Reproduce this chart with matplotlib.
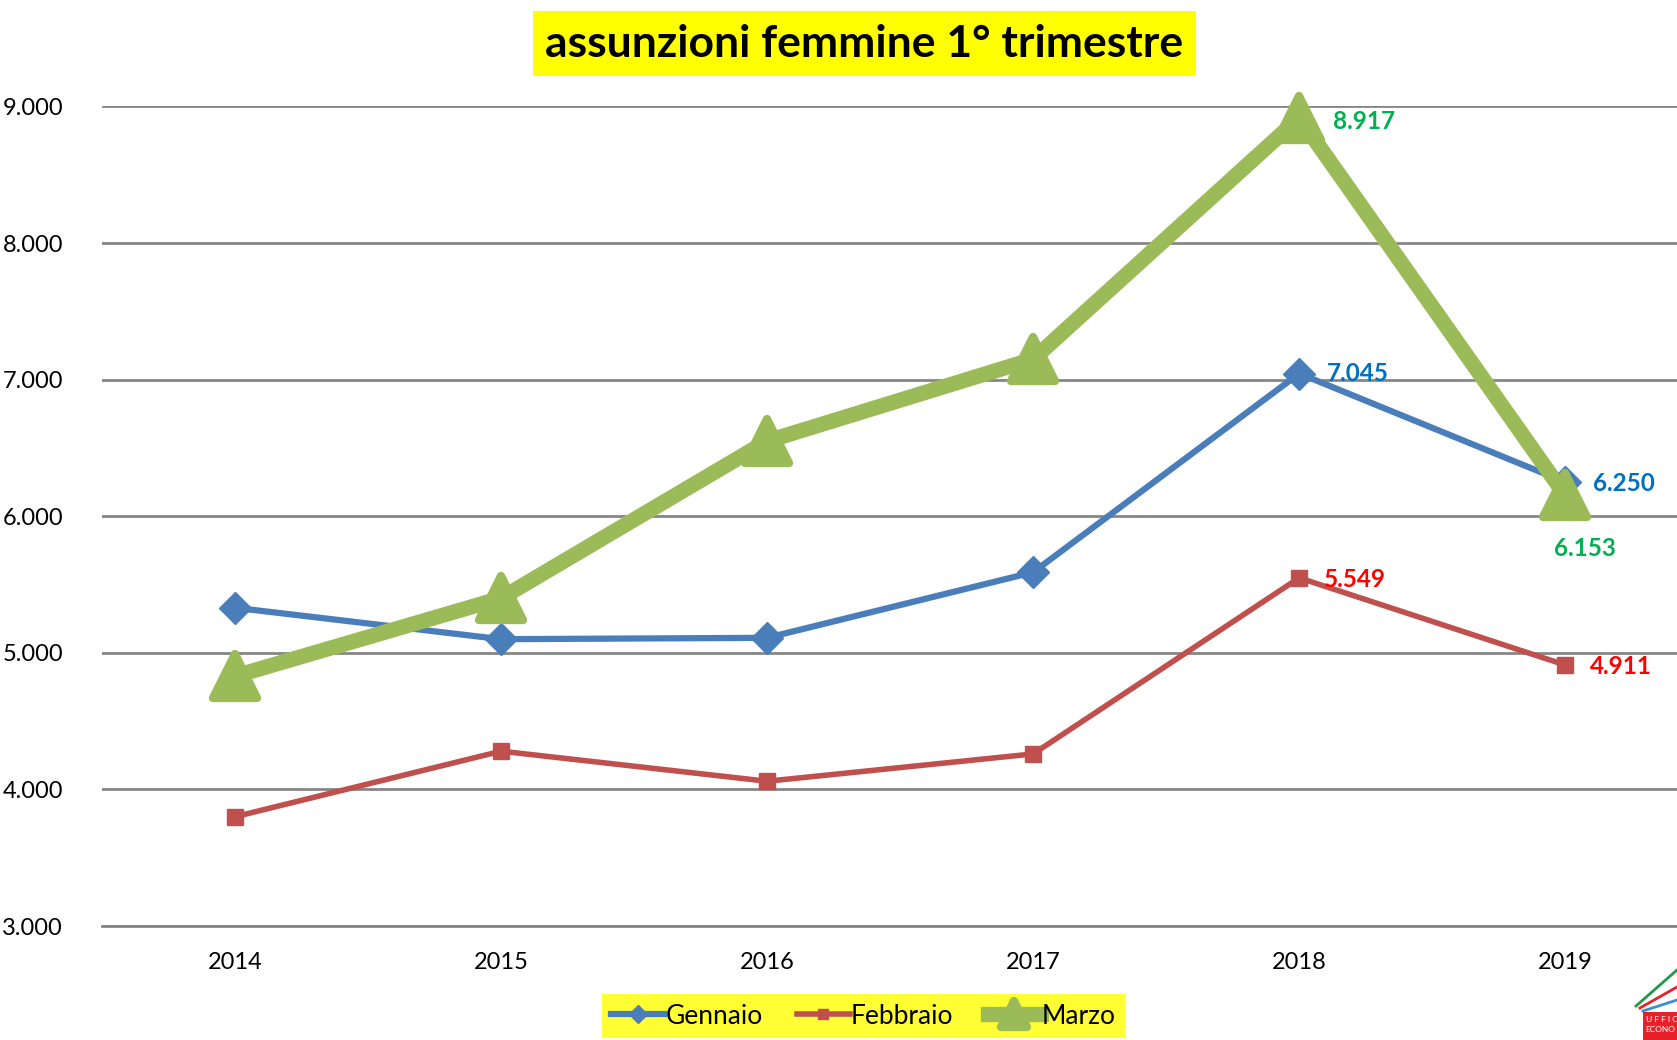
import numpy as np
import matplotlib
matplotlib.use('Agg')
import matplotlib.pyplot as plt
from matplotlib.markers import MarkerStyle
from matplotlib.patches import Rectangle
from matplotlib.lines import Line2D

plt.rcParams['font.family'] = ['Lato', 'DejaVu Sans']

anni = ['2014', '2015', '2016', '2017', '2018', '2019']
gennaio = [5330, 5100, 5110, 5590, 7045, 6250]
febbraio = [3800, 4280, 4060, 4260, 5549, 4911]
marzo = [4830, 5400, 6550, 7150, 8917, 6153]

def fmt(v):
    return '{:,}'.format(v).replace(',', '.')

x = np.arange(len(anni))

W, H = 1677, 1040
fig = plt.figure(figsize=(W / 100, H / 100), dpi=100)
ax = fig.add_axes([0.0608, 0.1096, 0.9392, 0.788])

tri = MarkerStyle('^', joinstyle='round')
ax.plot(x, gennaio, color='#4A7EBB', lw=4.5, marker='D', ms=16,
        label='Gennaio', zorder=4, clip_on=False)
ax.plot(x, febbraio, color='#C0504D', lw=4, marker='s', ms=12,
        label='Febbraio', zorder=3, clip_on=False)
ax.plot(x, marzo, color='#9BBB59', lw=11, marker=tri, ms=32,
        mew=6, mec='#9BBB59', label='Marzo', zorder=5, clip_on=False,
        solid_joinstyle='round')

ax.set_xlim(-0.5, 5.42)
ax.set_ylim(3000, 9000)
ax.set_yticks(np.arange(3000, 9001, 1000))
ax.set_yticklabels([fmt(v) for v in range(3000, 9001, 1000)], fontsize=17)
ax.set_xticks(x)
ax.set_xticklabels(anni, fontsize=17)
ax.tick_params(length=0)
ax.tick_params(axis='x', pad=19)
ax.tick_params(axis='y', pad=28)
ax.grid(axis='y', color='#868686', lw=2)
ax.set_axisbelow(True)
for s in ['top', 'right', 'left']:
    ax.spines[s].set_visible(False)
ax.spines['bottom'].set_color('#868686')
ax.spines['bottom'].set_linewidth(2)

# etichette dati
bold = dict(fontsize=17.5, fontweight='bold')
ax.annotate(fmt(gennaio[4]), (4, gennaio[4]), xytext=(20, 0), textcoords='offset points',
            color='#0070C0', va='center', **bold)
ax.annotate(fmt(gennaio[5]), (5, gennaio[5]), xytext=(20, -1), textcoords='offset points',
            color='#0070C0', va='center', **bold)
ax.annotate(fmt(febbraio[4]), (4, febbraio[4]), xytext=(18, -1), textcoords='offset points',
            color='#FF0000', va='center', **bold)
ax.annotate(fmt(febbraio[5]), (5, febbraio[5]), xytext=(18, -1), textcoords='offset points',
            color='#FF0000', va='center', **bold)
ax.annotate(fmt(marzo[4]), (4, marzo[4]), xytext=(24, -3), textcoords='offset points',
            color='#00B050', va='center', **bold)
ax.annotate(fmt(marzo[5]), (5, marzo[5]), xytext=(-8, -38), textcoords='offset points',
            color='#00B050', va='center', **bold)

fig.text(0.5155, 0.958, 'assunzioni femmine 1° trimestre', ha='center', va='center',
         fontsize=32, fontweight='bold',
         bbox=dict(facecolor='#FFFF00', edgecolor='none', pad=9))

leg = fig.legend(loc='center', bbox_to_anchor=(0.515, 0.023), ncol=3, fontsize=19,
                 frameon=True, handlelength=2.0, handletextpad=0.05, columnspacing=1.3,
                 borderpad=0.35, markerscale=0.6)
leg.get_frame().set_facecolor('#FFFF00')
leg.get_frame().set_edgecolor('none')
leg.get_frame().set_boxstyle('square', pad=0)

# logo in basso a destra
fig.patches.append(Rectangle((1643 / W, 0), (W - 1643) / W, 28 / H, transform=fig.transFigure,
                             facecolor='#E8202A', edgecolor='none'))
for (x0, y0, x1, y1, c) in [(1636, 1006, 1677, 970, '#1F9A48'),
                            (1640, 1008, 1677, 987, '#E8202A'),
                            (1643, 1011, 1677, 1000, '#3C8FD0')]:
    fig.lines.append(Line2D([x0 / W, x1 / W], [1 - y0 / H, 1 - y1 / H],
                            transform=fig.transFigure, color=c, lw=2))
fig.text(1646 / W, 1 - 1020 / H, 'U F F I C', color='white', fontsize=6, va='center')
fig.text(1645 / W, 1 - 1030 / H, 'ECONO', color='white', fontsize=6, va='center')

fig.savefig('out.png', dpi=100)
